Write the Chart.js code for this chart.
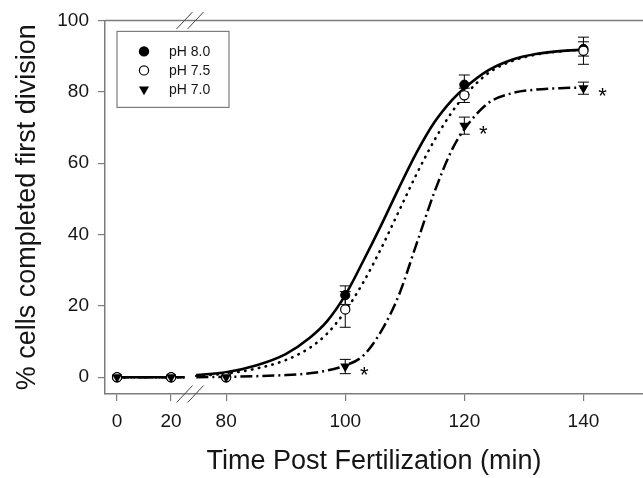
<!DOCTYPE html>
<html>
<head>
<meta charset="utf-8">
<script src="https://cdn.jsdelivr.net/npm/chart.js@4.4.1/dist/chart.umd.min.js"></script>
<style>
html, body { margin: 0; padding: 0; background: #fff; overflow: hidden; }
#chart { display: block; }
</style>
</head>
<body>
<canvas id="chart" width="643" height="478"></canvas>
<script>
const timePoints = [0, 20, 80, 100, 120, 140];
const xTickLabels = ['0', '20', '80', '100', '120', '140'];
const yTickValues = [0, 20, 40, 60, 80, 100];

const ph80Mean = [0, 0, 0, 23, 82, 92];
const ph80Err  = [0, 0, 0, 2.6, 2.7, 2.0];
const ph75Mean = [0, 0, 0, 19, 79, 91.5];
const ph75Err  = [0, 0, 0, 5.0, 2.0, 3.8];
const ph70Mean = [0, 0, 0, 3, 70.5, 81];
const ph70Err  = [0, 0, 0, 2.0, 2.4, 1.7];
const ph70Starred = [false, false, false, true, true, true];

// fitted curves (null = gap at the axis break)
const fitTimes = [0, 20, 25, 26, 75, 80, 85, 90, 94, 97, 100, 103, 106, 109, 112, 115, 118, 120, 124, 128, 132, 136, 140];
const fit80 = [0, 0, 0, null, 0.6, 1.4, 3.3, 6.5, 11, 15.8, 23, 32.5, 42.5, 53, 63, 71.5, 77.8, 81, 86, 89, 90.6, 91.4, 91.8];
const fit75 = [0, 0, 0, null, 0.4, 1.0, 2.4, 4.8, 8.2, 12.3, 18.5, 26.5, 36, 46.5, 57, 66.5, 74.5, 78.8, 85.2, 88.6, 90.4, 91.3, 91.8];
const fit70 = [0, 0, 0, null, 0, 0.1, 0.3, 0.6, 1.1, 1.9, 3.3, 6.0, 12.8, 23, 37.5, 52, 64, 69.5, 76.8, 79.6, 80.6, 81, 81.2];

// broken x axis: 0-25 squeezed, 75-150 at full scale
const BREAK_AT = 50;
const LEFT_OFFSET = 61.68;
const LEFT_SCALE = 0.4538;
const BREAK_MARK = 73.95;

function breakX(t) {
    return t <= BREAK_AT ? LEFT_OFFSET + t * LEFT_SCALE : t;
}

function toPoints(xs, ys) {
    return xs.map((t, i) => ({x: breakX(t), y: ys[i]}));
}

const axisGray = '#7c7c7c';
const textColor = '#151515';
const fontFamily = '"Liberation Sans", Arial, sans-serif';

const errorBars = {
    id: 'errorBars',
    beforeDatasetsDraw(chart) {
        const ctx = chart.ctx;
        const xs = chart.scales.x, ys = chart.scales.y;
        ctx.save();
        ctx.strokeStyle = '#000';
        ctx.lineWidth = 1;
        [[ph80Mean, ph80Err], [ph75Mean, ph75Err], [ph70Mean, ph70Err]].forEach(function (pair) {
            for (let i = 0; i < timePoints.length; i++) {
                if (!pair[1][i]) continue;
                const px = xs.getPixelForValue(breakX(timePoints[i]));
                const top = ys.getPixelForValue(pair[0][i] + pair[1][i]);
                const bot = ys.getPixelForValue(pair[0][i] - pair[1][i]);
                ctx.beginPath();
                ctx.moveTo(px, top); ctx.lineTo(px, bot);
                ctx.moveTo(px - 5.5, top); ctx.lineTo(px + 5.5, top);
                ctx.moveTo(px - 5.5, bot); ctx.lineTo(px + 5.5, bot);
                ctx.stroke();
            }
        });
        ctx.restore();
    }
};

function drawMarker(ctx, style, x, y) {
    ctx.beginPath();
    if (style === 'triangle') {
        const r = 5.8;
        ctx.moveTo(x, y + r);
        ctx.lineTo(x - r * 0.866, y - r / 2);
        ctx.lineTo(x + r * 0.866, y - r / 2);
        ctx.closePath();
        ctx.fillStyle = '#000';
        ctx.fill();
    } else {
        ctx.arc(x, y, 4.6, 0, Math.PI * 2);
        ctx.fillStyle = style === 'open' ? '#fff' : '#000';
        ctx.fill();
        ctx.lineWidth = 1.2;
        ctx.strokeStyle = '#000';
        ctx.stroke();
    }
}

const decorations = {
    id: 'decorations',
    afterDraw(chart) {
        const ctx = chart.ctx;
        const area = chart.chartArea;
        const xs = chart.scales.x, ys = chart.scales.y;
        ctx.save();

        // top frame line
        ctx.strokeStyle = axisGray;
        ctx.lineWidth = 1.5;
        ctx.beginPath();
        ctx.moveTo(area.left, area.top);
        ctx.lineTo(area.right, area.top);
        ctx.stroke();

        // break marks on the top and bottom lines
        const bx = xs.getPixelForValue(BREAK_MARK);
        ctx.strokeStyle = '#444';
        ctx.lineWidth = 1;
        [area.top, area.bottom].forEach(function (y) {
            [-5.5, 5.5].forEach(function (dx) {
                ctx.beginPath();
                ctx.moveTo(bx + dx - 8, y + 8.5);
                ctx.lineTo(bx + dx + 8, y - 8.5);
                ctx.stroke();
            });
        });

        // significance stars for pH 7.0
        ctx.fillStyle = '#000';
        ctx.font = '22px ' + fontFamily;
        ctx.textAlign = 'center';
        ctx.textBaseline = 'alphabetic';
        for (let i = 0; i < timePoints.length; i++) {
            if (!ph70Starred[i]) continue;
            const px = xs.getPixelForValue(breakX(timePoints[i]));
            const py = ys.getPixelForValue(ph70Mean[i]);
            ctx.fillText('*', px + 19, py + 15);
        }

        // legend box
        const lx = area.left + 12, ly = area.top + 11;
        ctx.strokeStyle = axisGray;
        ctx.lineWidth = 1.2;
        ctx.strokeRect(lx, ly, 112, 76);
        const entries = chart.data.datasets.filter(ds => ds.legendMarker).reverse();
        ctx.font = '14px ' + fontFamily;
        ctx.textAlign = 'left';
        ctx.textBaseline = 'middle';
        entries.forEach(function (ds, i) {
            const ey = ly + 20 + i * 19;
            drawMarker(ctx, ds.legendMarker, lx + 27, ey);
            ctx.fillStyle = textColor;
            ctx.fillText(ds.label, lx + 52, ey + 1);
        });
        ctx.restore();
    }
};

const config = {
    type: 'scatter',
    data: {
        datasets: [
            {
                label: 'pH 7.0',
                legendMarker: 'triangle',
                data: toPoints(timePoints, ph70Mean),
                pointStyle: 'triangle',
                rotation: 180,
                pointRadius: 5.8,
                backgroundColor: '#000',
                borderColor: '#000',
                borderWidth: 0,
                order: 0,
            },
            {
                label: 'pH 7.5',
                legendMarker: 'open',
                data: toPoints(timePoints, ph75Mean),
                pointRadius: 4.6,
                backgroundColor: '#fff',
                borderColor: '#000',
                borderWidth: 1.2,
                order: 1,
            },
            {
                label: 'pH 8.0',
                legendMarker: 'filled',
                data: toPoints(timePoints, ph80Mean),
                pointRadius: 4.6,
                backgroundColor: '#000',
                borderColor: '#000',
                borderWidth: 1,
                order: 2,
            },
            {
                label: 'fit pH 7.0',
                data: toPoints(fitTimes, fit70),
                showLine: true,
                pointRadius: 0,
                borderColor: '#000',
                borderWidth: 2.5,
                borderDash: [12, 4, 2, 4],
                spanGaps: false,
                cubicInterpolationMode: 'monotone',
                order: 3,
            },
            {
                label: 'fit pH 7.5',
                data: toPoints(fitTimes, fit75),
                showLine: true,
                pointRadius: 0,
                borderColor: '#000',
                borderWidth: 2.6,
                borderDash: [0.5, 6.5],
                borderCapStyle: 'round',
                spanGaps: false,
                cubicInterpolationMode: 'monotone',
                order: 4,
            },
            {
                label: 'fit pH 8.0',
                data: toPoints(fitTimes, fit80),
                showLine: true,
                pointRadius: 0,
                borderColor: '#000',
                borderWidth: 2.6,
                spanGaps: false,
                cubicInterpolationMode: 'monotone',
                order: 5,
            },
        ]
    },
    options: {
        responsive: false,
        animation: false,
        devicePixelRatio: 1,
        layout: {autoPadding: false, padding: {top: 17, right: 0, left: 0, bottom: 0}},
        plugins: {
            legend: {display: false},
            tooltip: {enabled: false},
        },
        scales: {
            x: {
                type: 'linear',
                min: 59.66,
                max: 150,
                afterBuildTicks: function (scale) {
                    scale.ticks = timePoints.map(t => ({value: breakX(t)}));
                },
                afterFit: function (scale) {
                    scale.height = 84;
                },
                ticks: {
                    autoSkip: false,
                    maxRotation: 0,
                    padding: 9,
                    color: textColor,
                    font: {family: fontFamily, size: 19},
                    callback: function (value, index) {
                        return xTickLabels[index];
                    }
                },
                grid: {
                    drawOnChartArea: false,
                    tickLength: 7,
                    color: axisGray,
                    lineWidth: 1.2,
                },
                border: {color: axisGray, width: 1.5},
                title: {
                    display: true,
                    text: 'Time Post Fertilization (min)',
                    color: textColor,
                    font: {family: fontFamily, size: 27},
                    padding: {top: 0, bottom: 0},
                }
            },
            y: {
                min: -4.7,
                max: 100,
                afterBuildTicks: function (scale) {
                    scale.ticks = yTickValues.map(v => ({value: v}));
                },
                afterFit: function (scale) {
                    scale.width = 105;
                },
                ticks: {
                    padding: 9,
                    color: textColor,
                    font: {family: fontFamily, size: 19},
                },
                grid: {
                    drawOnChartArea: false,
                    tickLength: 7,
                    color: axisGray,
                    lineWidth: 1.2,
                },
                border: {color: axisGray, width: 1.5},
                title: {
                    display: true,
                    text: '% cells completed first division',
                    color: textColor,
                    font: {family: fontFamily, size: 27},
                    padding: {top: 11, bottom: 0},
                }
            }
        }
    },
    plugins: [errorBars, decorations]
};

const chart = new Chart(document.getElementById('chart'), config);
</script>
</body>
</html>
